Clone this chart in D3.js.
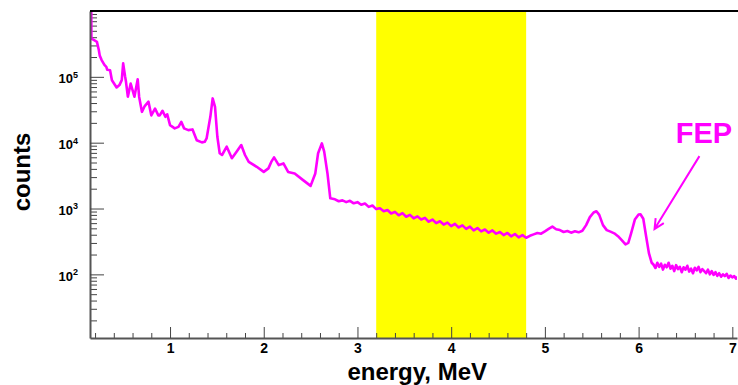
<!DOCTYPE html>
<html>
<head>
<meta charset="utf-8">
<script src="https://cdn.jsdelivr.net/npm/d3@7"></script>
<style>
  body { margin: 0; background: #fff; }
  svg { display: block; font-family: "Liberation Sans", Arial, sans-serif; }
</style>
</head>
<body>
<svg id="chart"></svg>
<script>
// spectrum (energy in MeV, counts per bin)
const energyLow = [0.159, 0.161, 0.19, 0.22, 0.24, 0.25, 0.27, 0.30, 0.32, 0.33, 0.36, 0.38, 0.43, 0.46, 0.485,
  0.50, 0.52, 0.53, 0.55, 0.58, 0.60, 0.62, 0.655, 0.67, 0.70, 0.73, 0.77, 0.80, 0.84, 0.875, 0.89, 0.92,
  0.95, 0.97, 1.00, 1.05, 1.09, 1.12, 1.15, 1.195, 1.24, 1.285, 1.34, 1.37, 1.39, 1.43, 1.455, 1.48, 1.505,
  1.53, 1.555, 1.605, 1.66, 1.71, 1.76, 1.80, 1.84, 1.925, 2.00, 2.05, 2.08, 2.11, 2.16, 2.21, 2.26, 2.33,
  2.42, 2.50, 2.55, 2.58, 2.62, 2.645, 2.68, 2.71];
const countsLow = [1.5e6, 3.8e5, 3.6e5, 3.4e5, 2.55e5, 2.1e5, 1.8e5, 1.52e5, 1.42e5, 1.28e5, 1.26e5, 8.9e4, 6.9e4, 7.5e4, 8.9e4,
  1.6e5, 1.02e5, 8.4e4, 5.0e4, 7.9e4, 6.3e4, 5.0e4, 9.2e4, 5.0e4, 2.94e4, 3.6e4, 4.2e4, 2.6e4, 3.3e4, 2.6e4, 2.6e4, 3.05e4,
  2.47e4, 2.69e4, 1.85e4, 1.65e4, 1.74e4, 2.07e4, 1.65e4, 1.55e4, 1.59e4, 1.09e4, 1.01e4, 1.03e4, 1.16e4, 2.47e4, 4.7e4, 3.5e4, 1.23e4,
  6900, 6500, 8700, 5800, 7300, 9200, 6500, 5100, 4300, 3600, 4070, 5100, 5970, 4560, 4840, 3600, 3410,
  2700, 2210, 3410, 6900, 9750, 7300, 3410, 1430];

const energyMid = [2.76, 2.80, 2.84, 2.88, 2.92, 2.96, 3.00, 3.04, 3.08, 3.12, 3.16, 3.20, 3.24, 3.28, 3.32, 3.36,
  3.40, 3.44, 3.48, 3.52, 3.56, 3.60, 3.64, 3.68, 3.72, 3.76, 3.80, 3.84, 3.88, 3.92, 3.96, 4.00, 4.04, 4.08,
  4.12, 4.16, 4.20, 4.24, 4.28, 4.32, 4.36, 4.40, 4.44, 4.48, 4.52, 4.56, 4.60, 4.64, 4.68, 4.72, 4.76, 4.80,
  4.84, 4.88, 4.92, 4.96, 5.00, 5.04, 5.08, 5.12, 5.16, 5.20, 5.24, 5.28, 5.32, 5.36, 5.40, 5.44, 5.48, 5.52,
  5.55, 5.58, 5.62, 5.66, 5.70, 5.74, 5.78, 5.82, 5.86, 5.89, 5.92, 5.96, 6.00, 6.02, 6.05, 6.08, 6.11, 6.14, 6.16];
const countsMid = [1380, 1290, 1330, 1250, 1310, 1200, 1250, 1140, 1190, 1060, 1110, 980, 1010, 910, 950, 840,
  890, 790, 850, 750, 800, 710, 760, 680, 720, 630, 680, 600, 640, 570, 610, 540, 585, 515,
  555, 490, 530, 465, 505, 450, 480, 430, 465, 415, 440, 395, 425, 378, 410, 365, 395, 360,
  385, 405, 425, 415, 450, 490, 530, 485, 470, 440, 455, 430, 450, 435, 460, 560, 740, 870,
  910, 800, 560, 470, 445, 420, 380, 330, 285, 300, 420, 680, 810, 820, 700, 380, 210, 150, 140];

const energyTail = [6.18, 6.20, 6.22, 6.24, 6.26, 6.28, 6.30, 6.32, 6.34, 6.36, 6.38, 6.40, 6.42, 6.44, 6.46,
  6.48, 6.50, 6.52, 6.54, 6.56, 6.58, 6.60, 6.62, 6.64, 6.66, 6.68, 6.70, 6.72, 6.74, 6.76, 6.78, 6.80,
  6.82, 6.84, 6.86, 6.88, 6.90, 6.92, 6.94, 6.96, 6.98, 7.00, 7.02, 7.04, 7.06];
const countsTail = [125, 150, 130, 145, 118, 140, 128, 150, 122, 135, 112, 138, 120, 130, 108,
  128, 118, 135, 110, 122, 104, 126, 115, 130, 108, 120, 112, 104, 118, 100, 112, 98,
  108, 95, 104, 92, 100, 94, 102, 88, 96, 90, 94, 86, 92];

const bandRange = [3.2, 4.8];
const xTickValues = [1, 2, 3, 4, 5, 6, 7];
const yTickValues = [1e2, 1e3, 1e4, 1e5];
const xTitle = 'energy, MeV';
const yTitle = 'counts';
const noteText = 'FEP';
// note label, arrow start and arrow tip in data units
const noteLabel = [6.397, 9750];
const noteFrom = [6.649, 6250];
const noteTo = [6.17, 488];

class SpectrumChart {

  constructor(_config, _energy, _counts) {
    this.config = {
      parentElement: _config.parentElement,
      containerWidth: _config.containerWidth,
      containerHeight: _config.containerHeight,
      margin: {top: 11, right: 1, bottom: 47, left: 90}
    };
    this.energy = _energy;
    this.counts = _counts;
    this.initVis();
  }

  initVis() {
    let vis = this;

    vis.width = vis.config.containerWidth - vis.config.margin.left - vis.config.margin.right;
    vis.height = vis.config.containerHeight - vis.config.margin.top - vis.config.margin.bottom;

    vis.svg = d3.select(vis.config.parentElement)
      .attr('width', vis.config.containerWidth)
      .attr('height', vis.config.containerHeight);

    vis.chart = vis.svg.append('g')
      .attr('transform', `translate(${vis.config.margin.left}, ${vis.config.margin.top})`);

    vis.x = d3.scaleLinear().domain([0.146, 7.05]).range([0, vis.width]);
    vis.y = d3.scaleLog().domain([10.8, 1e6]).range([vis.height, 0]);

    vis.svg.append('clipPath').attr('id', 'plot-clip')
      .append('rect').attr('width', vis.width).attr('height', vis.height);
  }

  updateVis() {
    let vis = this;

    // highlighted energy window
    vis.chart.append('rect')
      .attr('x', vis.x(bandRange[0]))
      .attr('y', 0)
      .attr('width', vis.x(bandRange[1]) - vis.x(bandRange[0]))
      .attr('height', vis.height)
      .attr('fill', '#ffff00');

    // minor ticks first so the major ones sit on top
    let xMinor = d3.range(2, 71, 2).map(d => d / 10).filter(d => d > 0.146 && d < 7.05 && d % 1 !== 0);
    vis.chart.append('g')
      .attr('transform', `translate(0, ${vis.height})`)
      .call(d3.axisBottom(vis.x).tickValues(xMinor).tickSize(-5).tickFormat(''))
      .call(g => g.select('.domain').remove())
      .selectAll('line').attr('stroke', '#444');

    let yMinor = [];
    [10, 100, 1000, 10000, 100000].forEach(p => {
      for (let m = 2; m <= 9; m++) yMinor.push(m * p);
    });
    yMinor = yMinor.filter(d => d > 10.8 && d < 1e6);
    vis.chart.append('g')
      .call(d3.axisLeft(vis.y).tickValues(yMinor).tickSize(-7).tickFormat(''))
      .call(g => g.select('.domain').remove())
      .selectAll('line').attr('stroke', '#444');

    let line = d3.line()
      .x((d, i) => vis.x(vis.energy[i]))
      .y((d, i) => vis.y(vis.counts[i]));

    vis.chart.append('path')
      .datum(vis.counts)
      .attr('clip-path', 'url(#plot-clip)')
      .attr('fill', 'none')
      .attr('stroke', '#ff00ff')
      .attr('stroke-width', 2.6)
      .attr('stroke-linejoin', 'round')
      .attr('d', line);

    // x axis
    let xAxisG = vis.chart.append('g')
      .attr('transform', `translate(0, ${vis.height})`)
      .call(d3.axisBottom(vis.x).tickValues(xTickValues).tickSize(-11).tickSizeOuter(0).tickPadding(5)
        .tickFormat(d3.format('d')));
    xAxisG.select('.domain').attr('stroke', '#555').attr('stroke-width', 2);
    xAxisG.selectAll('line').attr('stroke', '#444');
    xAxisG.selectAll('text')
      .attr('fill', '#000')
      .style('font-size', '14px')
      .style('font-weight', 'bold');

    // y axis with 10^n labels
    let yAxisG = vis.chart.append('g')
      .call(d3.axisLeft(vis.y).tickValues(yTickValues).tickSize(-14).tickSizeOuter(0).tickPadding(12));
    yAxisG.select('.domain').attr('stroke', '#555').attr('stroke-width', 2);
    yAxisG.selectAll('line').attr('stroke', '#444');
    yAxisG.selectAll('.tick text').each(function(d) {
      let t = d3.select(this);
      t.text(null)
        .attr('dy', '0.45em')
        .attr('fill', '#000')
        .style('font-size', '13px')
        .style('font-weight', 'bold');
      t.append('tspan').text('10');
      t.append('tspan').attr('dy', '-0.6em').style('font-size', '9px').text(Math.round(Math.log10(d)));
    });

    // frame top
    vis.chart.append('line')
      .attr('x1', 0).attr('x2', vis.width + 1)
      .attr('y1', 0).attr('y2', 0)
      .attr('stroke', '#000')
      .attr('stroke-width', 2);

    // axis titles
    vis.svg.append('text')
      .attr('x', 487)
      .attr('y', 380)
      .attr('text-anchor', 'end')
      .style('font-size', '24px')
      .style('font-weight', 'bold')
      .text(xTitle);

    vis.svg.append('text')
      .attr('transform', 'translate(30, 172) rotate(-90)')
      .attr('text-anchor', 'middle')
      .style('font-size', '24px')
      .style('font-weight', 'bold')
      .text(yTitle);

    // FEP annotation
    vis.chart.append('text')
      .attr('x', vis.x(noteLabel[0]))
      .attr('y', vis.y(noteLabel[1]))
      .attr('fill', '#ff00ff')
      .style('font-size', '29px')
      .style('font-weight', 'bold')
      .text(noteText);

    let x0 = vis.x(noteFrom[0]), y0 = vis.y(noteFrom[1]);
    let x1 = vis.x(noteTo[0]), y1 = vis.y(noteTo[1]);
    let ang = Math.atan2(y1 - y0, x1 - x0);
    let headLen = 11;
    let a1 = ang + Math.PI - 0.45, a2 = ang + Math.PI + 0.45;
    vis.chart.append('path')
      .attr('fill', 'none')
      .attr('stroke', '#ff00ff')
      .attr('stroke-width', 2)
      .attr('d', `M${x0},${y0}L${x1},${y1}` +
        `M${x1 + headLen * Math.cos(a1)},${y1 + headLen * Math.sin(a1)}L${x1},${y1}` +
        `L${x1 + headLen * Math.cos(a2)},${y1 + headLen * Math.sin(a2)}`);
  }
}

let spectrum = new SpectrumChart(
  {parentElement: '#chart', containerWidth: 738, containerHeight: 385},
  energyLow.concat(energyMid, energyTail),
  countsLow.concat(countsMid, countsTail)
);
spectrum.updateVis();
</script>
</body>
</html>
